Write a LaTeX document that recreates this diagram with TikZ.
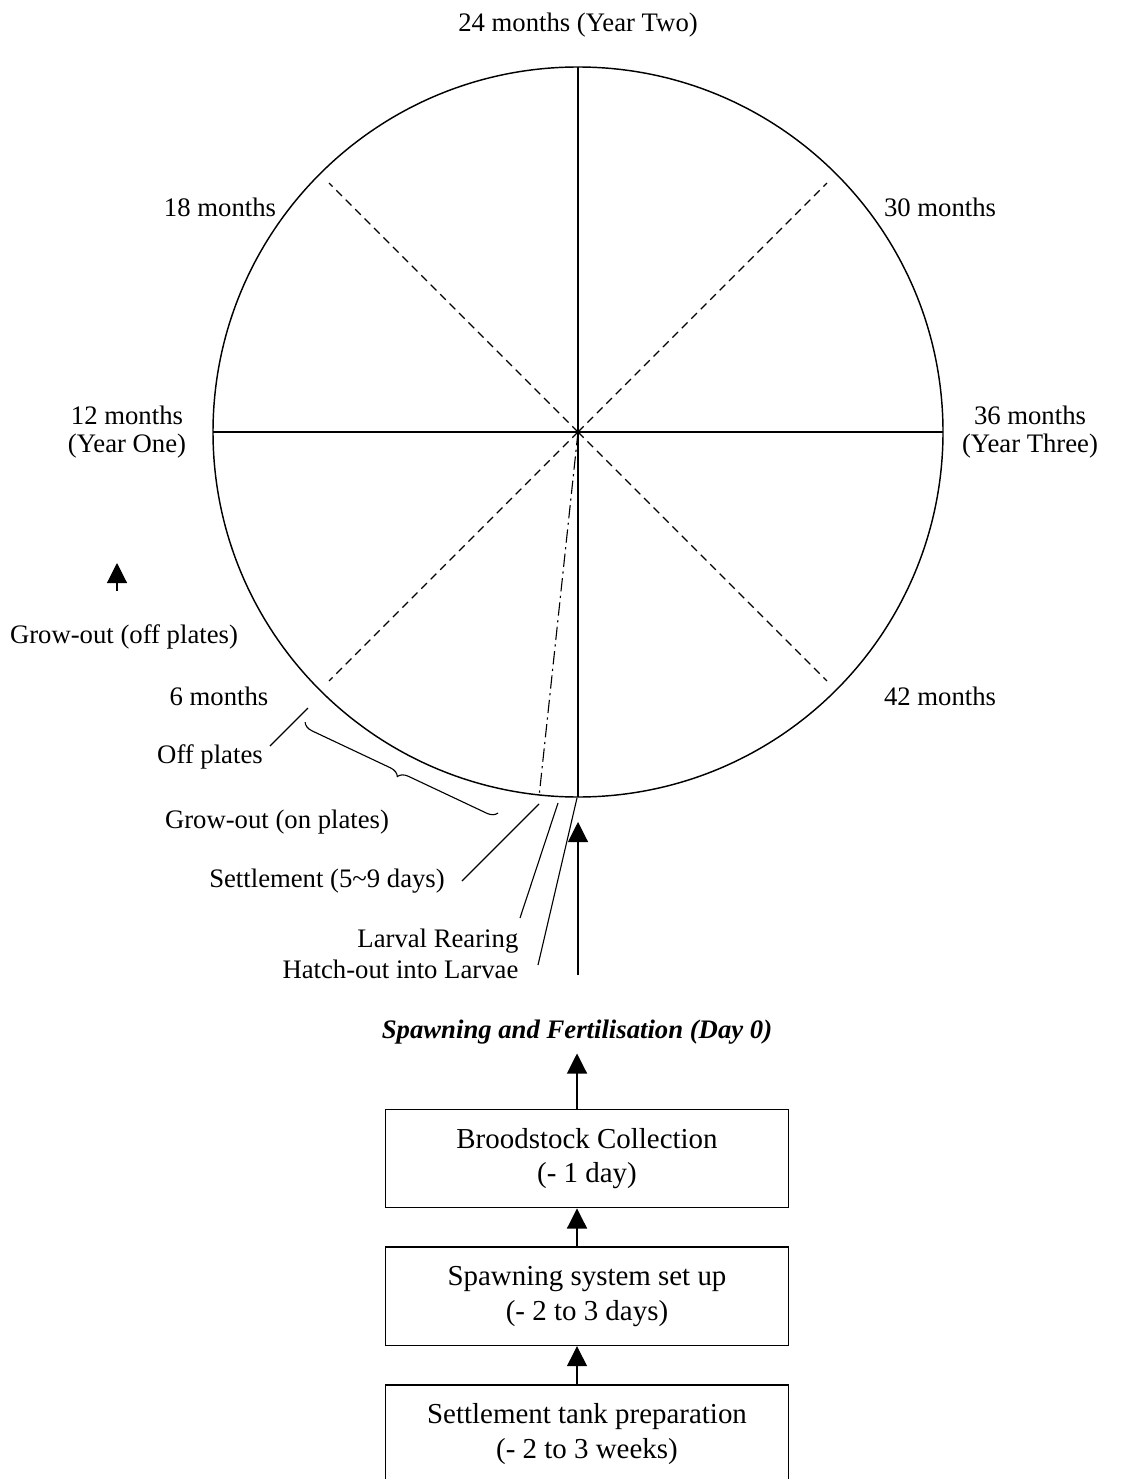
\documentclass[tikz,border=0pt]{standalone}
\usepackage{fontspec}
\setmainfont{Liberation Serif}
\usetikzlibrary{
  arrows.meta,
  positioning,
  decorations.pathreplacing
}
\tikzset{
  lbl/.style={font=\fontsize{12pt}{12.6pt}\selectfont, align=center, inner sep=1pt},
  daylbl/.style={lbl, font=\fontsize{12pt}{12.6pt}\selectfont\bfseries\itshape, inner sep=4pt},
  stagebox/.style={
    draw, line width=0.7pt, minimum width=63.6mm, minimum height=15.5mm,
    font=\fontsize{13pt}{15.5pt}\selectfont, align=center
  },
  dial/.style={line width=0.65pt},
  spoke/.style={line width=0.5pt},
  halfspoke/.style={line width=0.5pt, dash pattern=on 3.6pt off 2.4pt},
  dayspoke/.style={line width=0.5pt, dash pattern=on 6pt off 2pt on 1pt off 2pt},
  leader/.style={line width=0.5pt},
  uparrow/.style={line width=0.5pt, -{Triangle[length=9pt, width=9pt]}},
  brace/.style={decorate, decoration={brace, amplitude=4.5pt}, line width=0.5pt}
}
\begin{document}
\begin{tikzpicture}[x=0.0158cm, y=-0.0158cm, node distance=6mm]
  \clip (0,0) rectangle (1120,1479);
  % the clock of months
  \coordinate (c) at (578,432);
  \coordinate (top) at (578,67);
  \coordinate (bot) at (578,797);
  \coordinate (west) at (213,432);
  \coordinate (east) at (943,432);
  \coordinate (settle) at (539,797);
  \draw[dial] (c) circle[radius=365];
  \draw[spoke] (top) -- (bot);
  \draw[spoke] (west) -- (east);
  \foreach \a in {45,135,225,315}{\draw[halfspoke] (c) -- ++(\a:352);}
  \draw[dayspoke] (c) -- (settle);

  \node[lbl] (m24) at (578,25) {24 months (Year Two)};
  \node[lbl] (m18) at (220,207) {18 months};
  \node[lbl] (m30) at (940,207) {30 months};
  \node[lbl] (m12) at (127,432) {12 months\\(Year One)};
  \node[lbl] (m36) at (1030,432) {36 months\\(Year Three)};
  \node[lbl] (growoff) at (124,637) {Grow-out (off plates)};
  \node[lbl] (m6) at (219,696) {6 months};
  \node[lbl] (m42) at (940,696) {42 months};
  \coordinate (goA) at (117,591);
  \coordinate (goB) at (117,563);
  \draw[uparrow] (goA) -- (goB);

  % early stages
  \node[lbl] (offpl) at (210,757) {Off plates};
  \node[lbl] (growon) at (277,822) {Grow-out (on plates)};
  \node[lbl] (settl) at (327,881) {Settlement (5\textasciitilde9 days)};
  \node[lbl, anchor=east] (larv) at (521,941) {Larval Rearing};
  \node[lbl, anchor=east] (hatch) at (521,969) {Hatch-out into Larvae};
  \coordinate (offA) at (308,708);
  \coordinate (offB) at (270,746);
  \coordinate (gbA) at (498,813);
  \coordinate (gbB) at (305,722);
  \coordinate (stA) at (539,804);
  \coordinate (stB) at (462,881);
  \coordinate (lrA) at (558,803);
  \coordinate (lrB) at (520,918);
  \coordinate (hoA) at (577,798);
  \coordinate (hoB) at (538,965);
  \draw[leader] (offA) -- (offB);
  \draw[brace] (gbA) -- (gbB);
  \draw[leader] (stA) -- (stB);
  \draw[leader] (lrA) -- (lrB);
  \draw[leader] (hoA) -- (hoB);
  \coordinate (day0) at (578,975);
  \coordinate (day0tip) at (578,822);
  \draw[uparrow] (day0) -- (day0tip);

  % preparation boxes
  \node[stagebox] (tank) at (587,1434) {Settlement tank preparation\\(- 2 to 3 weeks)};
  \node[stagebox, above=of tank] (setup) {Spawning system set up\\(- 2 to 3 days)};
  \node[stagebox, above=of setup] (brood) {Broodstock Collection\\(- 1 day)};
  \node[daylbl] (spawn) at (577,1032) {Spawning and Fertilisation (Day 0)};
  \coordinate (axis) at (577,0);
  \draw[uparrow] (tank.north -| axis) -- (setup.south -| axis);
  \draw[uparrow] (setup.north -| axis) -- (brood.south -| axis);
  \draw[uparrow] (brood.north -| axis) -- (spawn.south);
\end{tikzpicture}
\end{document}
